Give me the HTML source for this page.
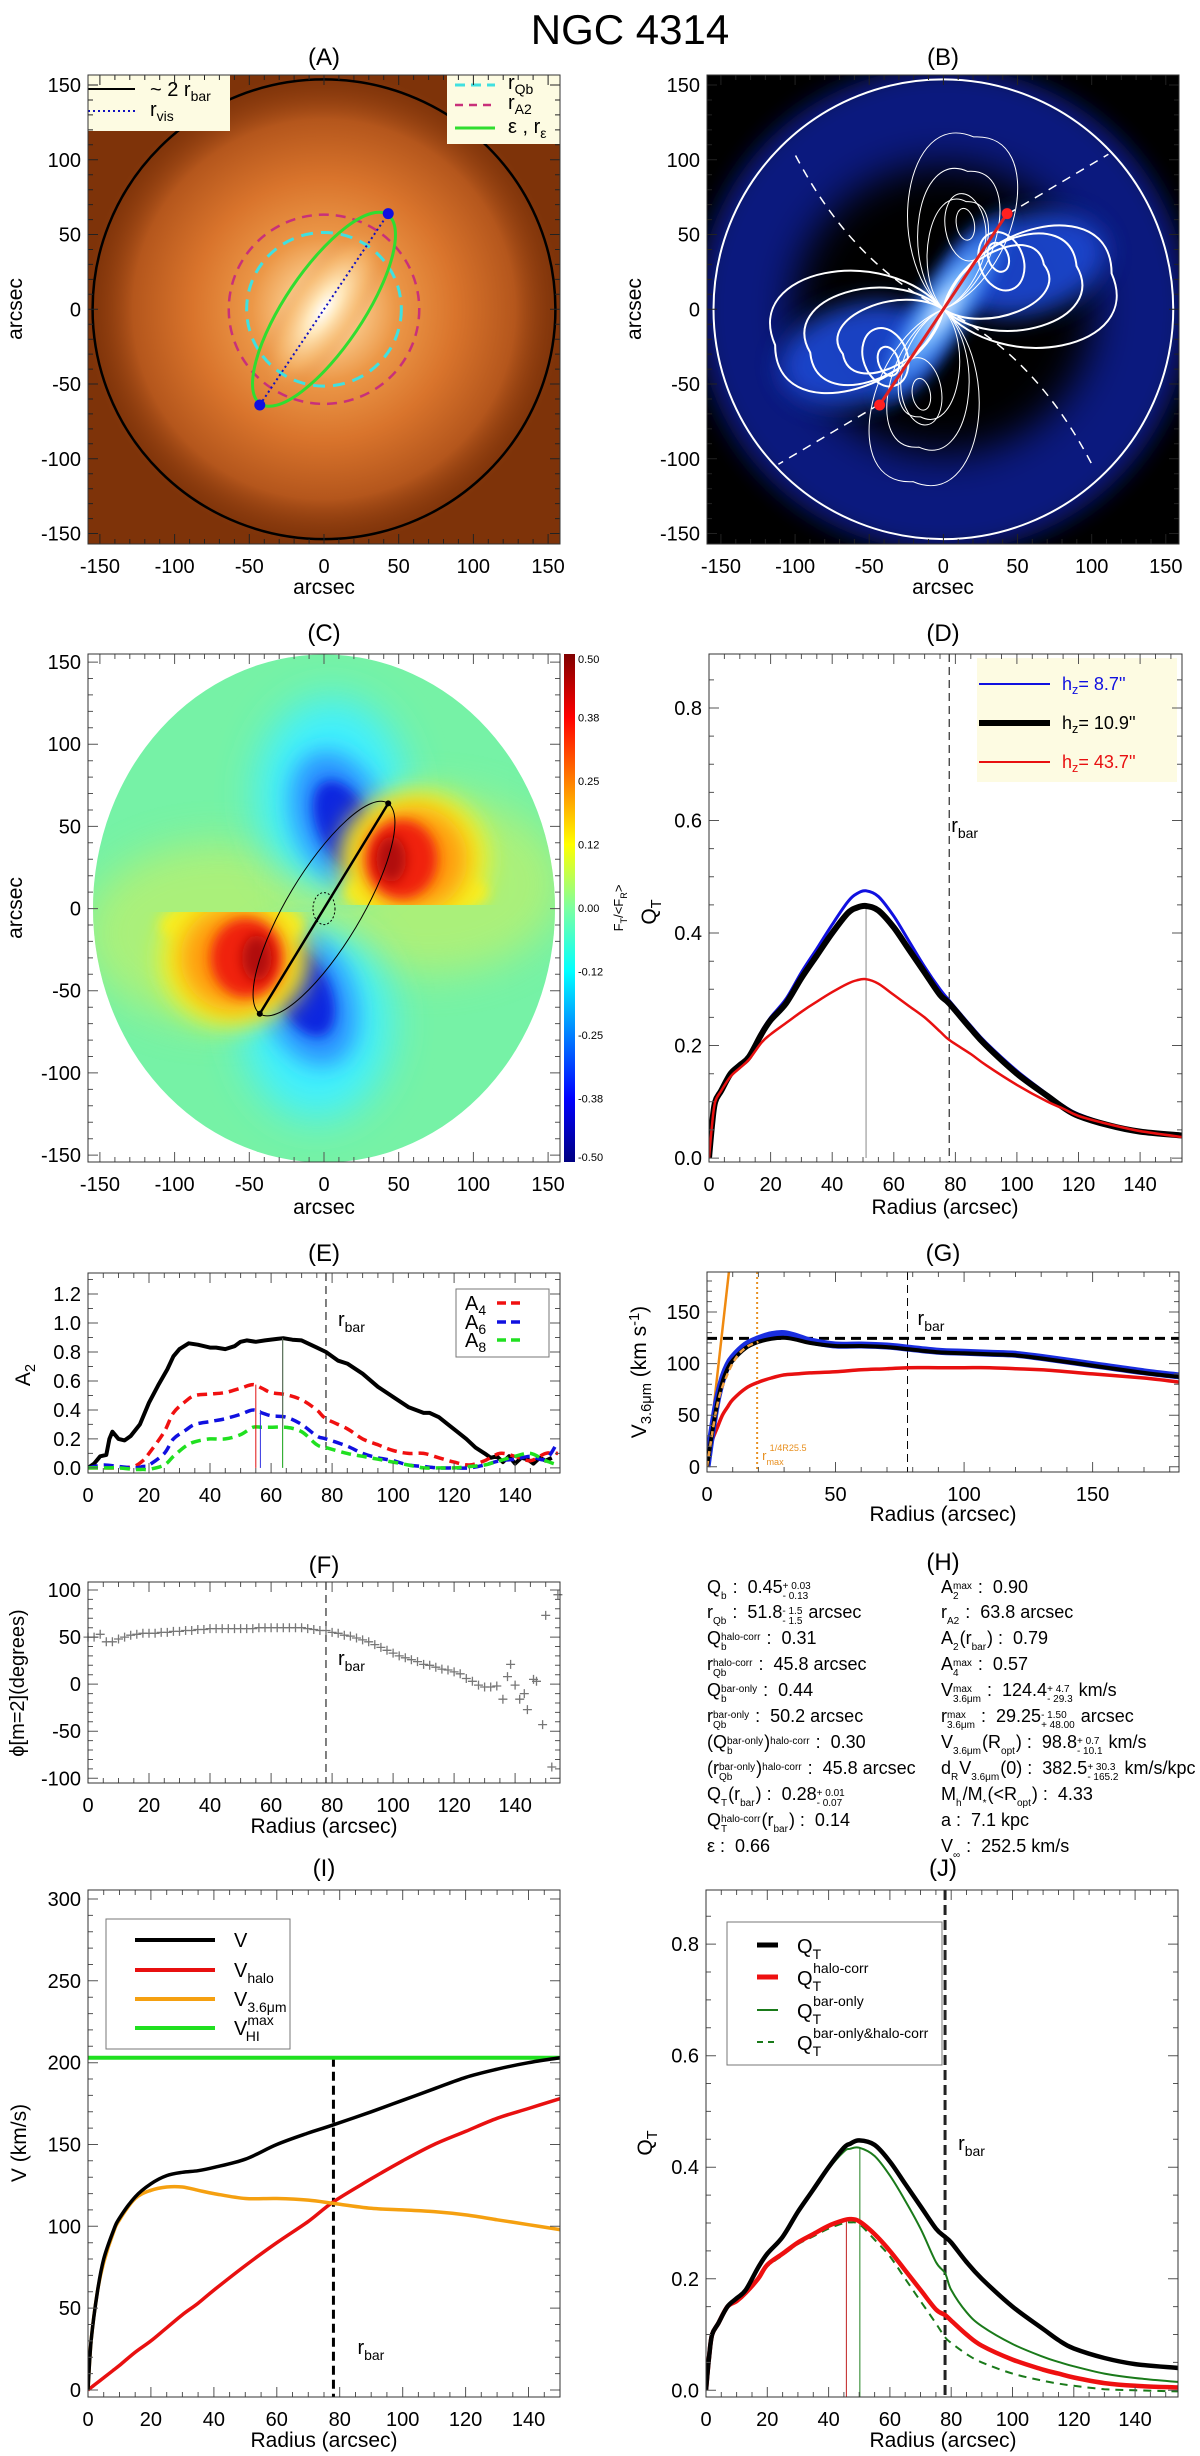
<!DOCTYPE html>
<html><head><meta charset="utf-8">
<style>
body{margin:0;background:#fff;}
#wrap{position:relative;width:1200px;height:2456px;overflow:hidden;font-family:"Liberation Sans",sans-serif;background:#fff;}
#fig{position:absolute;left:0;top:0;}
.hrow{position:absolute;font-size:18px;line-height:18px;white-space:pre;color:#000;}
.ss{display:inline-block;vertical-align:-6px;font-size:10px;line-height:10px;text-align:left;margin-right:1px;}
.ss span{display:block;height:10px;}
</style></head>
<body>
<div id="wrap">
<svg id="fig" width="1200" height="2456" viewBox="0 0 1200 2456" font-family="Liberation Sans, sans-serif">
<defs>
<clipPath id="clipA"><rect x="88" y="75" width="472" height="469"/></clipPath>
<clipPath id="clipB"><rect x="707" y="75" width="472" height="469"/></clipPath>
<clipPath id="clipC"><rect x="88" y="654" width="472" height="508"/></clipPath>
<clipPath id="clipD"><rect x="709" y="654" width="473" height="508"/></clipPath>
<clipPath id="clipE"><rect x="88" y="1273" width="472" height="200"/></clipPath>
<clipPath id="clipG"><rect x="707" y="1272" width="472" height="200"/></clipPath>
<clipPath id="clipI"><rect x="88" y="1890" width="472" height="507"/></clipPath>
<clipPath id="clipJ"><rect x="706" y="1890" width="472" height="507"/></clipPath>
<clipPath id="clipCdisk"><ellipse cx="324" cy="908.5" rx="231" ry="254"/></clipPath>
<clipPath id="clipCtop"><rect x="88" y="654" width="472" height="251"/></clipPath>
<clipPath id="clipCbot"><rect x="88" y="912" width="472" height="251"/></clipPath>
<radialGradient id="gA" cx="0.5" cy="0.5" r="0.5">
<stop offset="0" stop-color="#fff3dc"/><stop offset="0.12" stop-color="#fbcf92"/><stop offset="0.3" stop-color="#ec9848"/><stop offset="0.55" stop-color="#d9742c"/><stop offset="0.8" stop-color="#b4561c"/><stop offset="1" stop-color="#8a3a0e" stop-opacity="0"/>
</radialGradient>
<radialGradient id="gAbar" cx="0.5" cy="0.5" r="0.5">
<stop offset="0" stop-color="#ffffff"/><stop offset="0.3" stop-color="#ffe6b8"/><stop offset="0.7" stop-color="#f5b56a" stop-opacity="0.6"/><stop offset="1" stop-color="#e08840" stop-opacity="0"/>
</radialGradient>
<radialGradient id="gBbar" cx="0.5" cy="0.5" r="0.5">
<stop offset="0" stop-color="#e8f4ff"/><stop offset="0.35" stop-color="#6fb4ff"/><stop offset="0.75" stop-color="#2a6ae8" stop-opacity="0.8"/><stop offset="1" stop-color="#1040c0" stop-opacity="0"/>
</radialGradient>
<linearGradient id="jet" x1="0" y1="0" x2="0" y2="1">
<stop offset="0" stop-color="#800000"/><stop offset="0.125" stop-color="#ff0000"/><stop offset="0.375" stop-color="#ffff00"/><stop offset="0.5" stop-color="#7dffa0"/><stop offset="0.625" stop-color="#00ffff"/><stop offset="0.875" stop-color="#0000ff"/><stop offset="1" stop-color="#000080"/>
</linearGradient>
<filter id="blur4" x="-50%" y="-50%" width="200%" height="200%"><feGaussianBlur stdDeviation="4"/></filter>
<filter id="blur6" x="-50%" y="-50%" width="200%" height="200%"><feGaussianBlur stdDeviation="6"/></filter>
<filter id="blur12" x="-50%" y="-50%" width="200%" height="200%"><feGaussianBlur stdDeviation="12"/></filter>
<filter id="blur20" x="-50%" y="-50%" width="200%" height="200%"><feGaussianBlur stdDeviation="20"/></filter>
</defs>
</svg>

<div>
<div class="hrow" style="left:707px;top:1578px">Q<span class="ss"><span>&nbsp;</span><span>b</span></span> :  0.45<span class="ss"><span>+ 0.03</span><span>- 0.13</span></span></div>
<div class="hrow" style="left:707px;top:1603px">r<span class="ss"><span>&nbsp;</span><span>Qb</span></span> :  51.8<span class="ss"><span>- 1.5</span><span>- 1.5</span></span> arcsec</div>
<div class="hrow" style="left:707px;top:1629px">Q<span class="ss"><span>halo-corr</span><span>b</span></span> :  0.31</div>
<div class="hrow" style="left:707px;top:1655px">r<span class="ss"><span>halo-corr</span><span>Qb</span></span> :  45.8 arcsec</div>
<div class="hrow" style="left:707px;top:1681px">Q<span class="ss"><span>bar-only</span><span>b</span></span> :  0.44</div>
<div class="hrow" style="left:707px;top:1707px">r<span class="ss"><span>bar-only</span><span>Qb</span></span> :  50.2 arcsec</div>
<div class="hrow" style="left:707px;top:1733px">(Q<span class="ss"><span>bar-only</span><span>b</span></span>)<span class="ss"><span>halo-corr</span><span>&nbsp;</span></span> :  0.30</div>
<div class="hrow" style="left:707px;top:1759px">(r<span class="ss"><span>bar-only</span><span>Qb</span></span>)<span class="ss"><span>halo-corr</span><span>&nbsp;</span></span> :  45.8 arcsec</div>
<div class="hrow" style="left:707px;top:1785px">Q<span class="ss"><span>&nbsp;</span><span>T</span></span>(r<span class="ss"><span>&nbsp;</span><span>bar</span></span>) :  0.28<span class="ss"><span>+ 0.01</span><span>- 0.07</span></span></div>
<div class="hrow" style="left:707px;top:1811px">Q<span class="ss"><span>halo-corr</span><span>T</span></span>(r<span class="ss"><span>&nbsp;</span><span>bar</span></span>) :  0.14</div>
<div class="hrow" style="left:707px;top:1837px">ε :  0.66</div>

<div class="hrow" style="left:941px;top:1578px">A<span class="ss"><span>max</span><span>2</span></span> :  0.90</div>
<div class="hrow" style="left:941px;top:1603px">r<span class="ss"><span>&nbsp;</span><span>A2</span></span> :  63.8 arcsec</div>
<div class="hrow" style="left:941px;top:1629px">A<span class="ss"><span>&nbsp;</span><span>2</span></span>(r<span class="ss"><span>&nbsp;</span><span>bar</span></span>) :  0.79</div>
<div class="hrow" style="left:941px;top:1655px">A<span class="ss"><span>max</span><span>4</span></span> :  0.57</div>
<div class="hrow" style="left:941px;top:1681px">V<span class="ss"><span>max</span><span>3.6μm</span></span> :  124.4<span class="ss"><span>+ 4.7</span><span>- 29.3</span></span> km/s</div>
<div class="hrow" style="left:941px;top:1707px">r<span class="ss"><span>max</span><span>3.6μm</span></span> :  29.25<span class="ss"><span>- 1.50</span><span>+ 48.00</span></span> arcsec</div>
<div class="hrow" style="left:941px;top:1733px">V<span class="ss"><span>&nbsp;</span><span>3.6μm</span></span>(R<span class="ss"><span>&nbsp;</span><span>opt</span></span>) :  98.8<span class="ss"><span>+ 0.7</span><span>- 10.1</span></span> km/s</div>
<div class="hrow" style="left:941px;top:1759px">d<span class="ss"><span>&nbsp;</span><span>R</span></span>V<span class="ss"><span>&nbsp;</span><span>3.6μm</span></span>(0) :  382.5<span class="ss"><span>+ 30.3</span><span>- 165.2</span></span> km/s/kpc</div>
<div class="hrow" style="left:941px;top:1785px">M<span class="ss"><span>&nbsp;</span><span>h</span></span>/M<span class="ss"><span>&nbsp;</span><span>*</span></span>(&lt;R<span class="ss"><span>&nbsp;</span><span>opt</span></span>) :  4.33</div>
<div class="hrow" style="left:941px;top:1811px">a :  7.1 kpc</div>
<div class="hrow" style="left:941px;top:1837px">V<span class="ss"><span>&nbsp;</span><span>∞</span></span> :  252.5 km/s</div>
</div>
</div>

<script>
// ---------------- DATA ----------------
const qtR      = [0,1,2,4,7,10,13,17,20,25,30,35,40,45,48,51,55,60,65,70,75,78,85,90,100,110,115,120,130,140,154];
const qtBlack  = [0,0.06,0.10,0.12,0.15,0.165,0.18,0.22,0.245,0.275,0.32,0.36,0.40,0.435,0.445,0.448,0.44,0.41,0.37,0.33,0.29,0.275,0.23,0.20,0.15,0.11,0.09,0.075,0.058,0.047,0.04];
const qtBlue   = [0,0.06,0.10,0.12,0.15,0.166,0.182,0.225,0.25,0.283,0.33,0.372,0.415,0.455,0.47,0.475,0.465,0.43,0.385,0.34,0.30,0.28,0.235,0.205,0.155,0.113,0.093,0.078,0.06,0.049,0.042];
const qtRed    = [0,0.06,0.10,0.12,0.145,0.16,0.175,0.205,0.22,0.24,0.26,0.278,0.295,0.31,0.316,0.318,0.31,0.29,0.27,0.25,0.225,0.21,0.185,0.165,0.13,0.10,0.088,0.075,0.06,0.048,0.037];
const hzLabels = ['8.7','10.9','43.7'];
const rbar = 78;
const aR  = [0,2,4,6,7,8,10,12,14,17,20,23,26,28,30,33,36,40,42,45,48,50,52,55,58,62,64,67,70,75,78,82,85,90,95,100,105,110,112,115,118,121,124,127,130,132,134,136,138,140,142,144,146,148,150,152];
const a2  = [0,0.03,0.08,0.09,0.2,0.25,0.2,0.19,0.22,0.3,0.45,0.57,0.68,0.77,0.82,0.86,0.85,0.83,0.83,0.82,0.84,0.87,0.88,0.87,0.88,0.89,0.895,0.885,0.88,0.83,0.8,0.74,0.72,0.65,0.56,0.49,0.42,0.38,0.38,0.35,0.3,0.25,0.2,0.14,0.1,0.07,0.08,0.04,0.08,0.03,0.07,0.06,0.03,0.07,0.05,0.07];
const amR = [0,5,10,15,18,20,25,28,32,35,40,45,50,54,57,60,65,70,75,78,85,90,95,100,105,110,115,120,125,130,135,140,145,150,154];
const a4  = [0,0,0,0.01,0.05,0.1,0.25,0.38,0.46,0.5,0.51,0.52,0.55,0.575,0.55,0.52,0.505,0.47,0.4,0.34,0.27,0.2,0.16,0.12,0.1,0.1,0.07,0.04,0.02,0.05,0.1,0.08,0.05,0.1,0.1];
const a6  = [0,0.02,0.01,0,0.01,0.02,0.1,0.2,0.26,0.3,0.32,0.34,0.37,0.4,0.38,0.36,0.35,0.3,0.22,0.2,0.15,0.1,0.07,0.05,0.02,0.01,0.0,0.0,0.0,0.02,0.05,0.06,0.08,0.06,0.18];
const a8  = [0,0,0,-0.01,-0.01,-0.01,0.02,0.08,0.15,0.18,0.2,0.2,0.23,0.28,0.28,0.28,0.28,0.25,0.16,0.14,0.1,0.08,0.06,0.04,0.02,0,0,0,0.01,0.02,0.05,0.08,0.1,0.05,0.02];
const aPeaks = [55,56.5,63.8];
const phR = [0,2,4,6,8,10,12,14,16,18,20,22,24,26,28,30,32,34,36,38,40,42,44,46,48,50,52,54,56,58,60,62,64,66,68,70,72,74,76,78,80,82,84,86,88,90,92,94,96,98,100,102,104,106,108,110,112,114,116,118,120,122,124,126,128,130,132,134,136,137.5,138.5,140,141.5,143,144,146,147,149,150,152,154];
const phV = [50,50,53,45,45,48,50,52,53,54,54,54,55,55,56,56,57,57,58,58,59,59,59,59,59,59,59,59,60,60,60,60,60,60,60,60,59,58,57,57,55,54,52,51,49,47,45,42,39,36,33,30,28,26,24,21,20,18,16,15,13,11,6,3,-1,-3,-3,-2,-16,8,21,-1,-16,-10,-27,5,3,-43,73,-88,95];
const gR     = [0,2,4,6,8,10,15,20,25,30,35,40,50,60,70,78,90,100,110,120,130,150,170,184];
const gBlue  = [0,35,65,85,98,106,118,124,128,129,126,122,118,118,117,115,112,111,110,109,106,99,92,88];
const gBlack = [0,33,62,82,95,103,115,121,124,125,123,120,117,117,116,114,111,110,109,108,105,98,91,87];
const gRed   = [0,25,38,50,58,65,76,82,86,89,90,91,92,94,95,96,96,96,96,95,94,90,86,82];
const gOrR   = [0,4,8,12,16,20];
const gOrV   = [0,60,90,108,117,121];
const gSlopeR = [0,9];
const gSlopeV = [0,199];
const gVmax = 124.4;
const gRquarter = 19.5;
const iR    = [0,1,3,5,8,10,15,20,25,30,35,40,50,60,70,78,90,100,110,120,130,140,150];
const iV    = [0,30,60,80,97,105,118,126,131,133,134,136,141,150,157,162,170,177,184,191,196,200,203];
const iHalo = [0,1.5,4.5,7.5,12,15,23,30,38,46,53,61,76,90,103,115,129,140,150,158,166,172,178];
const iStar = [0,30,60,78,96,104,117,122,124,124,122,120,117,117,116,114,111,110,109,107,104,101,98];
const iHI = 203;
const jR      = [0,1,2,4,7,10,13,17,20,25,30,35,40,45,47,50,55,60,65,70,75,78,80,85,90,100,110,115,120,130,140,154];
const jQT     = [0,0.06,0.10,0.12,0.15,0.165,0.18,0.22,0.245,0.275,0.32,0.36,0.40,0.435,0.442,0.448,0.44,0.41,0.37,0.33,0.29,0.275,0.265,0.23,0.20,0.15,0.11,0.09,0.075,0.058,0.047,0.04];
const jHalo   = [0,0.06,0.10,0.12,0.15,0.16,0.175,0.2,0.225,0.245,0.265,0.28,0.295,0.305,0.307,0.303,0.28,0.25,0.215,0.18,0.145,0.135,0.125,0.1,0.08,0.055,0.037,0.03,0.023,0.013,0.008,0.005];
const jBar    = [0,0.06,0.10,0.12,0.15,0.165,0.18,0.22,0.245,0.275,0.318,0.357,0.397,0.428,0.433,0.435,0.42,0.385,0.34,0.29,0.23,0.21,0.18,0.14,0.115,0.083,0.06,0.051,0.043,0.03,0.022,0.015];
const jBarHalo= [0,0.06,0.10,0.12,0.15,0.16,0.175,0.2,0.222,0.242,0.262,0.276,0.29,0.3,0.301,0.298,0.27,0.24,0.2,0.16,0.12,0.095,0.085,0.065,0.05,0.03,0.017,0.012,0.008,0.002,0,-0.002];
const jPeaks = [45.8,50.2];
const barEnd = [43,64];
const rQb = 51.8, rA2 = 63.8, rOuter = 155, barEps = 0.66;
const cbLabels = ['0.50','0.38','0.25','0.12','0.00','-0.12','-0.25','-0.38','-0.50'];

// ---------------- HELPERS ----------------
const NS='http://www.w3.org/2000/svg';
const svg=document.getElementById('fig');
function mk(tag,attrs,parent){const e=document.createElementNS(NS,tag);for(const k in attrs)e.setAttribute(k,attrs[k]);(parent||svg).appendChild(e);return e;}
function tx(x,y,html,size,anchor,parent,extra){const e=mk('text',Object.assign({x:x,y:y,'font-size':size,'text-anchor':anchor||'middle'},extra||{}),parent);e.innerHTML=html;return e;}
function scales(F,xd,yd){return {sx:v=>F.x0+(v-xd[0])/(xd[1]-xd[0])*(F.x1-F.x0), sy:v=>F.y1-(v-yd[0])/(yd[1]-yd[0])*(F.y1-F.y0)};}
function f1(v){return (+v).toFixed(1);}
function pathD(xs,ys,S,smooth){
  const P=xs.map((x,i)=>[S.sx(x),S.sy(ys[i])]);
  let d='M'+f1(P[0][0])+','+f1(P[0][1]);
  for(let i=0;i<P.length-1;i++){
    if(!smooth){d+='L'+f1(P[i+1][0])+','+f1(P[i+1][1]);continue;}
    const p0=P[i-1]||P[i],p1=P[i],p2=P[i+1],p3=P[i+2]||p2;
    d+='C'+f1(p1[0]+(p2[0]-p0[0])/6)+','+f1(p1[1]+(p2[1]-p0[1])/6)+' '+f1(p2[0]-(p3[0]-p1[0])/6)+','+f1(p2[1]-(p3[1]-p1[1])/6)+' '+f1(p2[0])+','+f1(p2[1]);
  }
  return d;
}
function axes(key,F,xd,yd,xt,yt,xm,ym,xf,yf,S,color){
  const g=mk('g',{stroke:color||'#555','stroke-width':1,fill:'none'});
  
  
  let d='';
  for(let k=Math.ceil(xd[0]/xm-1e-9);k*xm<=xd[1]+1e-9;k++){const v=k*xm;const maj=xt.some(t=>Math.abs(t-v)<1e-6);const L=maj?10:5;const X=f1(S.sx(v));d+='M'+X+','+F.y1+'v'+(-L)+'M'+X+','+F.y0+'v'+L;}
  for(let k=Math.ceil(yd[0]/ym-1e-9);k*ym<=yd[1]+1e-9;k++){const v=k*ym;const maj=yt.some(t=>Math.abs(t-v)<1e-6);const L=maj?10:5;const Y=f1(S.sy(v));d+='M'+F.x0+','+Y+'h'+L+'M'+F.x1+','+Y+'h'+(-L);}
  mk('path',{d:d},g);
  const fr=mk('rect',{x:F.x0,y:F.y0,width:F.x1-F.x0,height:F.y1-F.y0,fill:'none',stroke:'#333','stroke-width':1});
  
  
  const gx=mk('g',{'font-size':20,'text-anchor':'middle',fill:'#000'});
  
  
  xt.forEach(v=>{const t=tx(S.sx(v),F.y1+29,xf(v),20,'middle',gx);});
  const gy=mk('g',{fill:'#000'});
  
  
  yt.forEach(v=>{const t=tx(F.x0-7,S.sy(v)+7,yf(v),20,'end',gy);});
}
function line(xs,ys,S,attrs,parent,name,smooth){const p=mk('path',Object.assign({d:pathD(xs,ys,S,smooth!==false),fill:'none','stroke-linejoin':'round','stroke-linecap':'butt'},attrs),parent);return p;}
const fmtInt=v=>String(v), fmt1=v=>v.toFixed(1);
const SUB=(s,dy)=>'<tspan font-size="70%" dy="'+(dy||5)+'">'+s+'</tspan>';

// ---------------- TITLE & PANEL LABELS ----------------
const title=tx(630,44,'NGC 4314',42,'middle');


[['(A)',324,65],['(B)',943,65],['(C)',324,641],['(D)',943,641],['(E)',324,1261],['(G)',943,1261],['(F)',324,1573],['(H)',943,1570],['(I)',324,1876],['(J)',943,1876]].forEach(a=>{
  const t=tx(a[1],a[2],a[0],24,'middle');
  
  
});
function ytitle(x,y,html,size,name){const t=tx(x,y,html,size||21,'middle',svg,{transform:'rotate(-90 '+x+' '+y+')'});return t;}
function xtitle(x,y,html,name){const t=tx(x,y,html,21,'middle');return t;}

// ---------------- PANEL A ----------------
const FA={x0:88,y0:75,x1:560,y1:544};
const SA=scales(FA,[-158,158],[-157,156.7]);
const gA=mk('g',{'clip-path':'url(#clipA)'});


const aBg=mk('rect',{x:88,y:75,width:472,height:469,fill:'#7e3309'},gA);


const aDisk=mk('ellipse',{cx:SA.sx(0),cy:SA.sy(0),rx:160*1.493,ry:160*1.483,fill:'url(#gA)'},gA);


const aBar=mk('ellipse',{cx:SA.sx(0),cy:SA.sy(0),rx:95,ry:38,fill:'url(#gAbar)',transform:'rotate(-56 '+SA.sx(0)+' '+SA.sy(0)+')'},gA);


const aOuter=mk('ellipse',{cx:SA.sx(0),cy:SA.sy(0),rx:rOuter*1.493,ry:rOuter*1.483,fill:'none',stroke:'#000','stroke-width':2.5},gA);


const aA2=mk('ellipse',{cx:SA.sx(0),cy:SA.sy(0),rx:rA2*1.493,ry:rA2*1.483,fill:'none',stroke:'#c8307a','stroke-width':2.5,'stroke-dasharray':'10,7'},gA);


const aQb=mk('ellipse',{cx:SA.sx(0),cy:SA.sy(0),rx:rQb*1.493,ry:rQb*1.483,fill:'none',stroke:'#40e0e0','stroke-width':3,'stroke-dasharray':'12,8'},gA);


const barLen=Math.hypot(barEnd[0]*1.493,barEnd[1]*1.483);
const aEll=mk('ellipse',{cx:SA.sx(0),cy:SA.sy(0),rx:barLen*0.995,ry:barLen*(1-barEps),fill:'none',stroke:'#30dd30','stroke-width':3,transform:'rotate(-56 '+SA.sx(0)+' '+SA.sy(0)+')'},gA);


const aVis=mk('line',{x1:SA.sx(-barEnd[0]),y1:SA.sy(-barEnd[1]),x2:SA.sx(barEnd[0]),y2:SA.sy(barEnd[1]),stroke:'#1010c0','stroke-width':2,'stroke-dasharray':'2,3'},gA);


[[1,1],[-1,-1]].forEach(s=>{const c=mk('circle',{cx:SA.sx(s[0]*barEnd[0]),cy:SA.sy(s[1]*barEnd[1]),r:5.5,fill:'#1010e0'},gA);});
const lgA1=mk('g',{});


mk('rect',{x:88,y:75,width:142,height:56,fill:'#fdfbe2'},lgA1);
mk('line',{x1:88,y1:89,x2:135,y2:89,stroke:'#000','stroke-width':2},lgA1);
mk('line',{x1:88,y1:111,x2:135,y2:111,stroke:'#1010c0','stroke-width':2,'stroke-dasharray':'2,3'},lgA1);
tx(150,96,'~ 2 r'+SUB('bar',5),20,'start',lgA1);
tx(150,116,'r'+SUB('vis',5),20,'start',lgA1);
const lgA2=mk('g',{});


mk('rect',{x:447,y:75,width:113,height:69,fill:'#fdfbe2'},lgA2);
mk('line',{x1:455,y1:85,x2:495,y2:85,stroke:'#40e0e0','stroke-width':3,'stroke-dasharray':'10,6'},lgA2);
mk('line',{x1:455,y1:105,x2:495,y2:105,stroke:'#c8307a','stroke-width':2.5,'stroke-dasharray':'8,6'},lgA2);
mk('line',{x1:455,y1:128,x2:495,y2:128,stroke:'#30dd30','stroke-width':3},lgA2);
tx(508,89,'r'+SUB('Qb',5),20,'start',lgA2);
tx(508,109,'r'+SUB('A2',5),20,'start',lgA2);
tx(508,133,'ε , r'+SUB('ε',5),20,'start',lgA2);
axes('panel-a',FA,[-158,158],[-157,156.7],[-150,-100,-50,0,50,100,150],[-150,-100,-50,0,50,100,150],10,10,fmtInt,fmtInt,SA,'#222');
xtitle(324,594,'arcsec','panel-a-x-axis-title');
ytitle(22,309,'arcsec',21,'panel-a-y-axis-title');

// ---------------- PANEL B ----------------
const FB={x0:707,y0:75,x1:1179,y1:544};
const SB=scales(FB,[-159.4,158.9],[-157,156.7]);
const bc=[SB.sx(0),SB.sy(0)];
const gB=mk('g',{'clip-path':'url(#clipB)'});


mk('rect',{x:707,y:75,width:472,height:469,fill:'#000'},gB);
const bDisk=mk('ellipse',{cx:bc[0],cy:bc[1],rx:245,ry:242,fill:'#0c1c8c',filter:'url(#blur12)',opacity:0.9},gB);


const bHole=mk('ellipse',{cx:bc[0],cy:bc[1],rx:150,ry:145,fill:'#000',filter:'url(#blur20)'},gB);


[[1],[-1]].forEach(s=>{
  const k=s[0];
  const arm=mk('ellipse',{cx:bc[0]+k*85,cy:bc[1]-k*45,rx:80,ry:50,fill:'#1e4ad8',filter:'url(#blur12)',opacity:0.9,transform:'rotate('+(-15)+' '+(bc[0]+k*85)+' '+(bc[1]-k*45)+')'},gB);
  
  
});
const bBar=mk('ellipse',{cx:bc[0],cy:bc[1],rx:125,ry:34,fill:'url(#gBbar)',filter:'url(#blur6)',transform:'rotate(-56 '+bc[0]+' '+bc[1]+')'},gB);


const gBc=mk('g',{fill:'none',stroke:'#fff'},gB);


function tear(L,W,ang,sw){const p=mk('path',{d:'M0,0 C'+(L*0.25)+','+(-W)+' '+(L*1.1)+','+(-W*1.05)+' '+L+',0 C'+(L*1.1)+','+(W*1.05)+' '+(L*0.25)+','+W+' 0,0',transform:'translate('+bc[0]+' '+bc[1]+') rotate('+ang+')','stroke-width':sw},gBc);}
function ell(dx,dy,rx,ry,ang,sw){const p=mk('ellipse',{cx:0,cy:0,rx:rx,ry:ry,transform:'translate('+(bc[0]+dx)+' '+(bc[1]+dy)+') rotate('+ang+')','stroke-width':sw},gBc);}
[0,180].forEach(r=>{
  tear(172,78,-12+r,2);tear(140,60,-18+r,2);tear(110,42,-24+r,2);
  const s=r?-1:1;
  ell(s*58,-s*48,22,30,-20,2);ell(s*55,-s*52,10,15,-20,2);
  tear(175,70,-80+r,1);tear(140,52,-80+r,1);tear(110,38,-78+r,1);
  ell(s*22,-s*82,20,34,-10,1);ell(s*22,-s*85,9,16,-10,1);
});
const bDash=mk('path',{d:'M'+bc[0]+','+bc[1]+' C'+(bc[0]-60)+','+(bc[1]-30)+' '+(bc[0]-110)+','+(bc[1]-80)+' '+(bc[0]-150)+','+(bc[1]-158)+' M'+bc[0]+','+bc[1]+' C'+(bc[0]+60)+','+(bc[1]+30)+' '+(bc[0]+110)+','+(bc[1]+80)+' '+(bc[0]+150)+','+(bc[1]+158)+' M'+(bc[0]+64)+','+(bc[1]-95)+' L'+(bc[0]+165)+','+(bc[1]-155)+' M'+(bc[0]-64)+','+(bc[1]+95)+' L'+(bc[0]-165)+','+(bc[1]+155),fill:'none',stroke:'#fff','stroke-width':1.5,'stroke-dasharray':'9,7'},gB);


const bCirc=mk('ellipse',{cx:bc[0],cy:bc[1],rx:rOuter*1.483,ry:rOuter*1.483,fill:'none',stroke:'#fff','stroke-width':2},gB);


const bBarL=mk('line',{x1:SB.sx(-barEnd[0]),y1:SB.sy(-barEnd[1]),x2:SB.sx(barEnd[0]),y2:SB.sy(barEnd[1]),stroke:'#e02020','stroke-width':3},gB);


[[1,1],[-1,-1]].forEach(s=>{const c=mk('circle',{cx:SB.sx(s[0]*barEnd[0]),cy:SB.sy(s[1]*barEnd[1]),r:5.5,fill:'#ff2020'},gB);});
axes('panel-b',FB,[-159.4,158.9],[-157,156.7],[-150,-100,-50,0,50,100,150],[-150,-100,-50,0,50,100,150],10,10,fmtInt,fmtInt,SB,'#222');
xtitle(943,594,'arcsec','panel-b-x-axis-title');
ytitle(641,309,'arcsec',21,'panel-b-y-axis-title');

// ---------------- PANEL C ----------------
const FC={x0:88,y0:654,x1:560,y1:1162};
const SC=scales(FC,[-158,158],[-154.2,154.9]);
const cc=[SC.sx(0),SC.sy(0)];
const gC=mk('g',{'clip-path':'url(#clipCdisk)'});


mk('rect',{x:88,y:654,width:472,height:508,fill:'#76f2a6'},gC);
function blob(x,y,rx,ry,col,ang,filt,parent,op){const e=mk('ellipse',{cx:SC.sx(x),cy:SC.sy(y),rx:rx*1.493,ry:ry*1.643,fill:col,filter:filt||'url(#blur12)',opacity:op||1,transform:'rotate('+(ang||0)+' '+SC.sx(x)+' '+SC.sy(y)+')'},parent);return e;}
blob(-70,-15,90,55,'#b8f070',0,'url(#blur20)',gC,0.8);
blob(70,15,90,55,'#b8f070',0,'url(#blur20)',gC,0.8);
[1,-1].forEach(s=>{
  blob(s*5,s*70,50,58,'#40f0ff',0,'url(#blur20)',gC);
  blob(s*10,s*55,30,42,'#2a90ff',-20,'url(#blur12)',gC);
  blob(s*14,s*50,18,30,'#0a28e0',-25,'url(#blur6)',gC);
});
const gCt=mk('g',{'clip-path':'url(#clipCtop)'},gC);


const gCb=mk('g',{'clip-path':'url(#clipCbot)'},gC);


[[1,gCt],[-1,gCb]].forEach(a=>{const s=a[0],p=a[1];
  blob(s*62,s*10,48,14,'#f8f020',0,'url(#blur6)',p);
  blob(s*60,s*30,50,42,'#f4f020',0,'url(#blur12)',p);
  blob(s*60,s*30,36,32,'#ff9a10',0,'url(#blur12)',p);
  blob(s*52,s*30,24,24,'#f02010',0,'url(#blur6)',p);
  blob(s*45,s*30,10,14,'#b00808',0,'url(#blur6)',p);
});
const cEll=mk('ellipse',{cx:cc[0],cy:cc[1],rx:Math.hypot(barEnd[0]*1.493,barEnd[1]*1.643),ry:Math.hypot(barEnd[0]*1.493,barEnd[1]*1.643)*0.3,fill:'none',stroke:'#000','stroke-width':1,transform:'rotate(-59 '+cc[0]+' '+cc[1]+')'});


const cBar=mk('line',{x1:SC.sx(-barEnd[0]),y1:SC.sy(-barEnd[1]),x2:SC.sx(barEnd[0]),y2:SC.sy(barEnd[1]),stroke:'#000','stroke-width':2.5});


[[1,1],[-1,-1]].forEach(s=>{const c=mk('circle',{cx:SC.sx(s[0]*barEnd[0]),cy:SC.sy(s[1]*barEnd[1]),r:3,fill:'#000'});});
const cDot=mk('ellipse',{cx:cc[0],cy:cc[1],rx:11,ry:16,fill:'none',stroke:'#000','stroke-width':1,'stroke-dasharray':'2,2'});


axes('panel-c',FC,[-158,158],[-154.2,154.9],[-150,-100,-50,0,50,100,150],[-150,-100,-50,0,50,100,150],10,10,fmtInt,fmtInt,SC,'#555');
xtitle(324,1214,'arcsec','panel-c-x-axis-title');
ytitle(22,908,'arcsec',21,'panel-c-y-axis-title');
const cb=mk('rect',{x:564,y:654,width:11,height:508,fill:'url(#jet)'});


cbLabels.forEach((l,i)=>{const t=tx(578,654+i*(508/8)+(i===0?9:(i===8?-1:4)),l,11,'start');});
ytitle(623,908,'F'+SUB('T',4)+'<tspan dy="-4">/&lt;F</tspan>'+SUB('R',4)+'<tspan dy="-4">&gt;</tspan>',13,'colorbar-title');

// ---------------- PANEL D ----------------
const FD={x0:709,y0:654,x1:1182,y1:1162};
const xdD=[0,153.6], ydD=[-0.007,0.896];
const SD=scales(FD,xdD,ydD);
const gD=mk('g',{'clip-path':'url(#clipD)'});


const dPk=mk('line',{x1:SD.sx(51),y1:SD.sy(0),x2:SD.sx(51),y2:SD.sy(0.448),stroke:'#888','stroke-width':1},gD);


const dRb=mk('line',{x1:SD.sx(rbar),y1:FD.y0,x2:SD.sx(rbar),y2:FD.y1,stroke:'#000','stroke-width':1,'stroke-dasharray':'8,5'},gD);


line(qtR,qtBlue,SD,{stroke:'#1010e0','stroke-width':3},gD,'qt-hz-8.7-line');
line(qtR,qtBlack,SD,{stroke:'#000','stroke-width':6},gD,'qt-hz-10.9-line');
line(qtR,qtRed,SD,{stroke:'#e81010','stroke-width':2.5},gD,'qt-hz-43.7-line');
const dRl=tx(SD.sx(rbar)+2,832,'r'+SUB('bar',6),20,'start');


const lgD=mk('g',{});


mk('rect',{x:977,y:658,width:200,height:124,fill:'#fdfbe2'},lgD);
[['#1010e0',2,684],['#000',6,723],['#e81010',2,762]].forEach((c,i)=>{
  const l=mk('line',{x1:979,y1:c[2],x2:1050,y2:c[2],stroke:c[0],'stroke-width':c[1]},lgD);
  
  
  const t=tx(1062,c[2]+6,'h'+SUB('z',4)+'<tspan dy="-4">=  '+hzLabels[i]+"''</tspan>",18,'start',lgD,{fill:c[0],'xml:space':'preserve'});
  
  
});
axes('panel-d',FD,xdD,ydD,[0,20,40,60,80,100,120,140],[0,0.2,0.4,0.6,0.8],5,0.05,fmtInt,fmt1,SD);
xtitle(945,1214,'Radius (arcsec)','panel-d-x-axis-title');
ytitle(656,912,'Q'+SUB('T',5),21,'panel-d-y-axis-title');

// ---------------- PANEL E ----------------
const FE={x0:88,y0:1273,x1:560,y1:1473};
const xdE=[0,154.7], ydE=[-0.035,1.345];
const SE=scales(FE,xdE,ydE);
const gE=mk('g',{'clip-path':'url(#clipE)'});


const eRb=mk('line',{x1:SE.sx(rbar),y1:FE.y0,x2:SE.sx(rbar),y2:FE.y1,stroke:'#000','stroke-width':1,'stroke-dasharray':'8,5'},gE);


line(aR,a2,SE,{stroke:'#000','stroke-width':4},gE,'a2-line',false);
line(amR,a4,SE,{stroke:'#f01010','stroke-width':3.5,'stroke-dasharray':'10,6'},gE,'a4-line');
line(amR,a6,SE,{stroke:'#1010e0','stroke-width':3.5,'stroke-dasharray':'10,6'},gE,'a6-line');
line(amR,a8,SE,{stroke:'#20e020','stroke-width':3.5,'stroke-dasharray':'10,6'},gE,'a8-line');
[['#e01010',0.575],['#3030e0',0.4],['#10a010',0.89]].forEach((c,i)=>{const l=mk('line',{x1:SE.sx(aPeaks[i]),y1:SE.sy(0),x2:SE.sx(aPeaks[i]),y2:SE.sy(c[1]),stroke:c[0],'stroke-width':1},gE);});
const ePk=mk('line',{x1:SE.sx(aPeaks[2]),y1:SE.sy(0.28),x2:SE.sx(aPeaks[2]),y2:SE.sy(0.895),stroke:'#666','stroke-width':1},gE);


const eRl=tx(SE.sx(rbar)+12,1326,'r'+SUB('bar',6),20,'start');


const lgE=mk('g',{});


mk('rect',{x:456,y:1289,width:93,height:68,fill:'#fff',stroke:'#777','stroke-width':1},lgE);
[['A4','#f01010',1303],['A6','#1010e0',1322],['A8','#20e020',1340]].forEach(c=>{
  const t=tx(465,c[2]+7,c[0][0]+SUB(c[0][1],5),20,'start',lgE);
  
  
  const l=mk('line',{x1:497,y1:c[2],x2:524,y2:c[2],stroke:c[1],'stroke-width':3.5,'stroke-dasharray':'9,5'},lgE);
  
  
});
axes('panel-e',FE,xdE,ydE,[0,20,40,60,80,100,120,140],[0,0.2,0.4,0.6,0.8,1.0,1.2],5,0.1,fmtInt,fmt1,SE);
ytitle(30,1375,'A'+SUB('2',5),21,'panel-e-y-axis-title');

// ---------------- PANEL F ----------------
const FF={x0:88,y0:1582,x1:560,y1:1783};
const xdF=[0,154.7], ydF=[-105,108.5];
const SF=scales(FF,xdF,ydF);
const fRb=mk('line',{x1:SF.sx(rbar),y1:FF.y0,x2:SF.sx(rbar),y2:FF.y1,stroke:'#000','stroke-width':1,'stroke-dasharray':'8,5'});


const gF=mk('g',{stroke:'#777','stroke-width':1.3});


phR.forEach((r,i)=>{const x=SF.sx(r),y=SF.sy(phV[i]);const p=mk('path',{d:'M'+f1(x-4.5)+','+f1(y)+'h9M'+f1(x)+','+f1(y-4.5)+'v9'},gF);});
const fRl=tx(SF.sx(rbar)+12,1665,'r'+SUB('bar',6),20,'start');


axes('panel-f',FF,xdF,ydF,[0,20,40,60,80,100,120,140],[-100,-50,0,50,100],5,10,fmtInt,fmtInt,SF);
xtitle(324,1833,'Radius (arcsec)','panel-f-x-axis-title');
ytitle(24,1683,'ϕ[m=2](degrees)',20,'panel-f-y-axis-title');

// ---------------- PANEL G ----------------
const FG={x0:707,y0:1272,x1:1179,y1:1472};
const xdG=[0,183.6], ydG=[-5,188.7];
const SG=scales(FG,xdG,ydG);
const gG=mk('g',{'clip-path':'url(#clipG)'});


const gRb=mk('line',{x1:SG.sx(rbar),y1:FG.y0,x2:SG.sx(rbar),y2:FG.y1,stroke:'#000','stroke-width':1,'stroke-dasharray':'8,5'},gG);


const gQ=mk('line',{x1:SG.sx(gRquarter),y1:FG.y0,x2:SG.sx(gRquarter),y2:FG.y1,stroke:'#e89020','stroke-width':2,'stroke-dasharray':'2,3'},gG);


const gH=mk('line',{x1:FG.x0,y1:SG.sy(gVmax),x2:FG.x1,y2:SG.sy(gVmax),stroke:'#000','stroke-width':3,'stroke-dasharray':'10,6'},gG);


line(gSlopeR,gSlopeV,SG,{stroke:'#f08a10','stroke-width':2.5},gG,'inner-slope-line',false);
line(gR,gRed,SG,{stroke:'#e81010','stroke-width':3.5},gG,'v-thick-disk-line');
line(gR,gBlue,SG,{stroke:'#1a2ee0','stroke-width':7},gG,'v-thin-disk-line');
line(gR,gBlack,SG,{stroke:'#000','stroke-width':4},gG,'v-3.6um-line');
line(gOrR,gOrV,SG,{stroke:'#f0a040','stroke-width':2.5,'stroke-dasharray':'6,4'},gG,'v-fit-line');
const gRl=tx(SG.sx(rbar)+10,1325,'r'+SUB('bar',6),20,'start');


const gMl=tx(SG.sx(gRquarter)+5,1460,'r'+SUB('max',5)+'<tspan dy="-14" dx="-14" font-size="70%">1/4R25.5</tspan>',13,'start',svg,{fill:'#e89020'});


axes('panel-g',FG,xdG,ydG,[0,50,100,150],[0,50,100,150],10,10,fmtInt,fmtInt,SG);
xtitle(943,1521,'Radius (arcsec)','panel-g-x-axis-title');
ytitle(646,1372,'V'+SUB('3.6μm',5)+'<tspan dy="-5"> (km s</tspan><tspan font-size="70%" dy="-7">-1</tspan><tspan dy="7">)</tspan>',21,'panel-g-y-axis-title');

// ---------------- PANEL I ----------------
const FI={x0:88,y0:1890,x1:560,y1:2397};
const xdI=[0,150], ydI=[-4.3,305.5];
const SI=scales(FI,xdI,ydI);
const gI=mk('g',{'clip-path':'url(#clipI)'});


const iRb=mk('line',{x1:SI.sx(rbar),y1:SI.sy(iHI),x2:SI.sx(rbar),y2:FI.y1,stroke:'#000','stroke-width':3,'stroke-dasharray':'9,5'},gI);


const iH=mk('line',{x1:FI.x0,y1:SI.sy(iHI),x2:FI.x1,y2:SI.sy(iHI),stroke:'#20e020','stroke-width':4},gI);


line(iR,iHalo,SI,{stroke:'#e81010','stroke-width':3.5},gI,'v-halo-line');
line(iR,iStar,SI,{stroke:'#f5a010','stroke-width':3.5},gI,'v-3.6um-line');
line(iR,iV,SI,{stroke:'#000','stroke-width':3.5},gI,'v-total-line');
const iRl=tx(SI.sx(rbar)+24,2354,'r'+SUB('bar',6),20,'start');


const lgI=mk('g',{});


mk('rect',{x:106,y:1919,width:184,height:130,fill:'#fff',stroke:'#777','stroke-width':1},lgI);
[['#000','V',1940],['#e81010','V'+SUB('halo',6),1970],['#f5a010','V'+SUB('3.6μm',6),1999],['#20e020','V<tspan font-size="70%" dx="0" dy="-10">max</tspan><tspan font-size="70%" dx="-28" dy="16">HI</tspan>',2028]].forEach(c=>{
  const l=mk('line',{x1:135,y1:c[2],x2:215,y2:c[2],stroke:c[0],'stroke-width':4},lgI);
  
  
  const t=tx(234,c[2]+7,c[1],20,'start',lgI);
  
  
});
axes('panel-i',FI,xdI,ydI,[0,20,40,60,80,100,120,140],[0,50,100,150,200,250,300],5,10,fmtInt,fmtInt,SI);
xtitle(324,2447,'Radius (arcsec)','panel-i-x-axis-title');
ytitle(26,2143,'V (km/s)',21,'panel-i-y-axis-title');

// ---------------- PANEL J ----------------
const FJ={x0:706,y0:1890,x1:1178,y1:2397};
const xdJ=[0,154], ydJ=[-0.012,0.897];
const SJ=scales(FJ,xdJ,ydJ);
const gJ=mk('g',{'clip-path':'url(#clipJ)'});


const jRb=mk('line',{x1:SJ.sx(rbar),y1:FJ.y0,x2:SJ.sx(rbar),y2:FJ.y1,stroke:'#222','stroke-width':3,'stroke-dasharray':'10,5'},gJ);


[['#c02020',0.307,0],['#208020',0.435,1]].forEach(c=>{const l=mk('line',{x1:SJ.sx(jPeaks[c[2]]),y1:SJ.sy(-0.02),x2:SJ.sx(jPeaks[c[2]]),y2:SJ.sy(c[1]),stroke:c[0],'stroke-width':1},gJ);});
line(jR,jBarHalo,SJ,{stroke:'#1a7a1a','stroke-width':2,'stroke-dasharray':'8,6'},gJ,'qt-baronly-halocorr-line');
line(jR,jBar,SJ,{stroke:'#1a7a1a','stroke-width':2},gJ,'qt-baronly-line');
line(jR,jHalo,SJ,{stroke:'#ee1010','stroke-width':4.5},gJ,'qt-halocorr-line');
line(jR,jQT,SJ,{stroke:'#000','stroke-width':4.5},gJ,'qt-line');
const jRl=tx(SJ.sx(rbar)+13,2150,'r'+SUB('bar',6),20,'start');


const lgJ=mk('g',{});


mk('rect',{x:727,y:1922,width:215,height:143,fill:'#fff',stroke:'#777','stroke-width':1},lgJ);
const jl=[['#000',5,'',''],['#ee1010',5,'','halo-corr'],['#1a7a1a',2,'','bar-only'],['#1a7a1a',2,'6,5','bar-only&amp;halo-corr']];
[1945,1977,2010,2042].forEach((y,i)=>{
  const c=jl[i];
  const l=mk('line',{x1:757,y1:y,x2:778,y2:y,stroke:c[0],'stroke-width':c[1],'stroke-dasharray':c[2]||'none'},lgJ);
  
  
  const html='Q'+SUB('T',6)+(c[3]?'<tspan font-size="70%" dx="-8" dy="-18">'+c[3]+'</tspan>':'');
  const t=tx(797,y+8,html,20,'start',lgJ);
  
  
});
axes('panel-j',FJ,xdJ,ydJ,[0,20,40,60,80,100,120,140],[0,0.2,0.4,0.6,0.8],5,0.05,fmtInt,fmt1,SJ);
xtitle(943,2447,'Radius (arcsec)','panel-j-x-axis-title');
ytitle(652,2143,'Q'+SUB('T',5),21,'panel-j-y-axis-title');
</script>
</body></html>
